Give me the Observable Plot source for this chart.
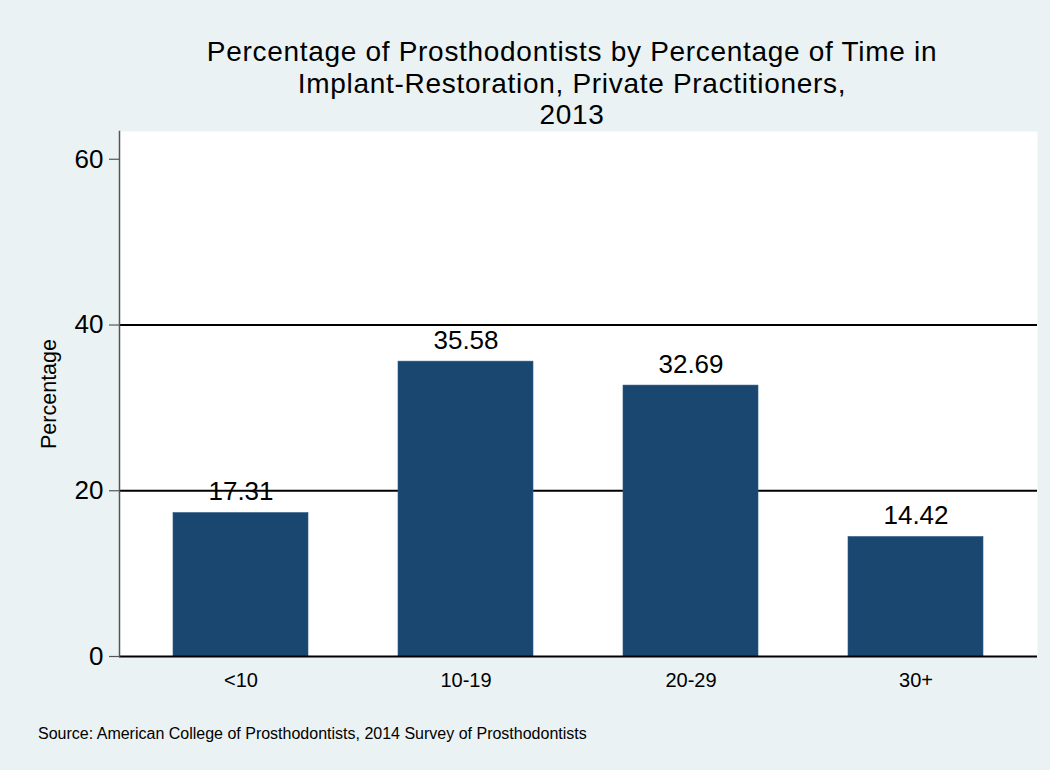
<!DOCTYPE html>
<html>
<head>
<meta charset="utf-8">
<script src="https://cdn.jsdelivr.net/npm/d3@7"></script>
<script src="https://cdn.jsdelivr.net/npm/@observablehq/plot@0.6"></script>
<style>
  html, body { margin: 0; padding: 0; background: #eaf2f3; }
  #wrap { position: relative; width: 1050px; height: 770px; background: #eaf2f3; font-family: "Liberation Sans", Arial, sans-serif; overflow: hidden; }
  #title { position: absolute; left: 113px; width: 918px; top: 36px; text-align: center; font-size: 28px; line-height: 31.5px; letter-spacing: 0.7px; color: #000; }
  #caption { position: absolute; left: 38px; top: 725px; font-size: 16px; line-height: 17px; color: #000; white-space: nowrap; }
  #chart { position: absolute; left: 0; top: 0; }
</style>
</head>
<body>
<div id="wrap">
  <div id="chart"></div>
  <div id="title"></div>
  <div id="caption"></div>
</div>
<script>
const titleLines = [
  "Percentage of Prosthodontists by Percentage of Time in",
  "Implant-Restoration, Private Practitioners,",
  "2013"
];
const captionText = "Source: American College of Prosthodontists, 2014 Survey of Prosthodontists";
const yAxisLabel = "Percentage";
const categories = ["<10", "10-19", "20-29", "30+"];
const percentages = [17.31, 35.58, 32.69, 14.42];
const yTicks = [0, 20, 40, 60];
const gridValues = [20, 40];

const data = categories.map((c, i) => ({category: c, value: percentages[i]}));

const titleEl = document.getElementById("title");
titleLines.forEach(t => { const d = document.createElement("div"); d.textContent = t; titleEl.appendChild(d); });
document.getElementById("caption").textContent = captionText;

const chart = Plot.plot({
  width: 1050, height: 770,
  marginLeft: 119, marginRight: 13, marginTop: 131, marginBottom: 114,
  style: { background: "transparent", fontFamily: "Liberation Sans, Arial, sans-serif", color: "#000" },
  x: { type: "band", domain: categories, paddingInner: 0.4, paddingOuter: 0.24, label: null, axis: null },
  y: { domain: [0, 63.35], label: null, axis: null },
  marks: [
    Plot.frame({ fill: "white", stroke: null }),
    Plot.ruleY(gridValues, { stroke: "#000", strokeWidth: 2 }),
    Plot.barY(data, { x: "category", y: "value", fill: "#1a476f", stroke: "#2b5a85", strokeWidth: 0.6 }),
    Plot.ruleY([0], { stroke: "#000", strokeWidth: 2 }),
    Plot.text(data, { x: "category", y: "value", text: d => d.value.toFixed(2), dy: -13, lineAnchor: "bottom", fontSize: 26, fill: "#000" }),
    Plot.axisY({ ticks: yTicks, tickSize: 10, tickPadding: 6, fontSize: 26, stroke: "#555", strokeWidth: 1.2, label: null, tickFormat: d => String(d) }),
    Plot.frame({ anchor: "left", stroke: "#555", strokeWidth: 1.5 }),
    Plot.axisX({ tickSize: 0, tickPadding: 16, fontSize: 20, label: null }),
    Plot.text([yAxisLabel], { frameAnchor: "left", rotate: -90, dx: -70, textAnchor: "middle", fontSize: 21.5, fill: "#000" })
  ]
});
document.getElementById("chart").appendChild(chart);
</script>
</body>
</html>
